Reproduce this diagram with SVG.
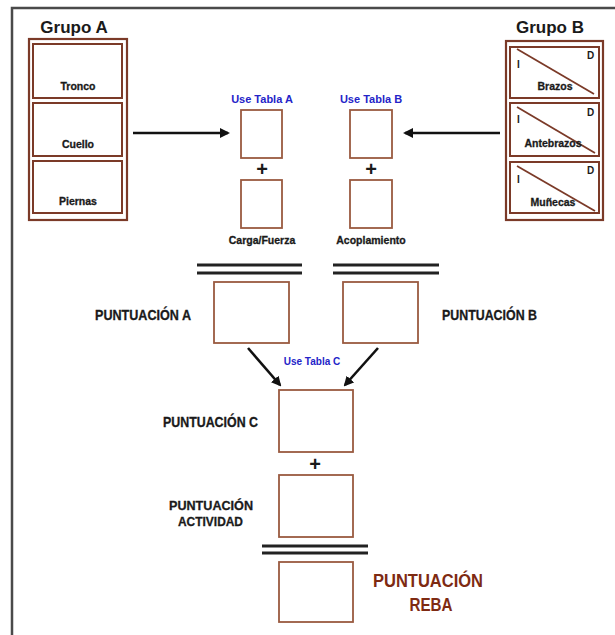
<svg xmlns="http://www.w3.org/2000/svg" width="615" height="635" viewBox="0 0 615 635">
  <defs>
    <style>
      .frame { fill: none; stroke: #4a4a4a; stroke-width: 2.5; }
      .grp { fill: #fff; stroke: #7b3a28; stroke-width: 2.2; }
      .cell { fill: #fff; stroke: #7b3a28; stroke-width: 2; }
      .box { fill: #fff; stroke: #9a5a40; stroke-width: 1.8; }
      .diag { stroke: #7b3a28; stroke-width: 1.8; }
      .wire { stroke: #111; stroke-width: 2.6; fill: none; }
      .bar { stroke: #222; stroke-width: 3; }
      text { font-family: "Liberation Sans", Arial, sans-serif; font-weight: bold; fill: #1a1a1a; }
      .title { font-size: 17px; }
      .small { font-size: 10.5px; text-anchor: middle; stroke: #1a1a1a; stroke-width: 0.3; }
      .letter { font-size: 10px; }
      .blue { font-size: 11px; fill: #2424c8; text-anchor: middle; }
      .score { font-size: 14px; stroke: #1a1a1a; stroke-width: 0.3; }
      .score2 { font-size: 12.5px; stroke: #1a1a1a; stroke-width: 0.3; }
      .plus { font-size: 20px; text-anchor: middle; }
      .reba { font-size: 18px; fill: #7e2a12; text-anchor: middle; }
    </style>
    <marker id="head" markerWidth="10" markerHeight="10" refX="8" refY="5" orient="auto" markerUnits="userSpaceOnUse">
      <path d="M0,0 L10,5 L0,10 Z" fill="#111"/>
    </marker>
  </defs>

  <rect width="615" height="635" fill="#fff"/>
  <!-- page frame (top and left edges) -->
  <path class="frame" d="M12,635 L12,8 L615,8"/>

  <!-- Grupo A -->
  <g id="grupo-a">
    <text class="title" x="74" y="33" text-anchor="middle">Grupo A</text>
    <rect class="grp" x="29" y="39" width="98" height="181"/>
    <rect class="cell" x="33" y="44" width="89" height="54"/>
    <rect class="cell" x="33" y="103" width="89" height="53"/>
    <rect class="cell" x="33" y="161" width="89" height="52"/>
    <text class="small" x="78" y="90">Tronco</text>
    <text class="small" x="78" y="148">Cuello</text>
    <text class="small" x="78" y="205">Piernas</text>
  </g>

  <!-- Grupo B -->
  <g id="grupo-b">
    <text class="title" x="550" y="33" text-anchor="middle">Grupo B</text>
    <rect class="grp" x="506" y="41" width="97" height="179"/>
    <rect class="cell" x="510" y="47" width="89" height="51"/>
    <rect class="cell" x="510" y="103" width="89" height="53"/>
    <rect class="cell" x="510" y="162" width="89" height="51"/>
    <line class="diag" x1="517" y1="49" x2="594" y2="94"/>
    <line class="diag" x1="517" y1="107" x2="595" y2="153"/>
    <line class="diag" x1="517" y1="166" x2="595" y2="211"/>
    <text class="letter" x="517" y="68">I</text>
    <text class="letter" x="587" y="59">D</text>
    <text class="letter" x="517" y="123">I</text>
    <text class="letter" x="587" y="116">D</text>
    <text class="letter" x="517" y="183">I</text>
    <text class="letter" x="587" y="174">D</text>
    <text class="small" x="555" y="90">Brazos</text>
    <text class="small" x="553" y="147">Antebrazos</text>
    <text class="small" x="553" y="206">Muñecas</text>
  </g>

  <!-- Tabla A column -->
  <g id="tabla-a">
    <text class="blue" x="262" y="103">Use Tabla A</text>
    <rect class="box" x="241" y="110" width="41" height="48"/>
    <text class="plus" x="262" y="176">+</text>
    <rect class="box" x="241" y="180" width="41" height="48"/>
    <text class="small" x="262" y="244">Carga/Fuerza</text>
  </g>

  <!-- Tabla B column -->
  <g id="tabla-b">
    <text class="blue" x="371" y="103">Use Tabla B</text>
    <rect class="box" x="350" y="110" width="42" height="48"/>
    <text class="plus" x="371" y="176">+</text>
    <rect class="box" x="350" y="180" width="42" height="48"/>
    <text class="small" x="371" y="244">Acoplamiento</text>
  </g>

  <!-- Puntuación A -->
  <g id="puntuacion-a">
    <line class="bar" x1="197" y1="265" x2="302" y2="265"/>
    <line class="bar" x1="197" y1="273" x2="302" y2="273"/>
    <rect class="box" x="214" y="282" width="75" height="61"/>
    <text class="score" x="95" y="320" textLength="96" lengthAdjust="spacingAndGlyphs">PUNTUACIÓN A</text>
  </g>

  <!-- Puntuación B -->
  <g id="puntuacion-b">
    <line class="bar" x1="333" y1="265" x2="439" y2="265"/>
    <line class="bar" x1="333" y1="273" x2="439" y2="273"/>
    <rect class="box" x="343" y="282" width="75" height="61"/>
    <text class="score" x="442" y="320" textLength="95" lengthAdjust="spacingAndGlyphs">PUNTUACIÓN B</text>
  </g>

  <!-- Puntuación C -->
  <g id="puntuacion-c">
    <text class="blue" x="312" y="365" style="font-size:10px">Use Tabla C</text>
    <rect class="box" x="279" y="390" width="74" height="62"/>
    <text class="score" x="163" y="427" textLength="95" lengthAdjust="spacingAndGlyphs">PUNTUACIÓN C</text>
    <text class="plus" x="315" y="471">+</text>
  </g>

  <!-- Puntuación actividad -->
  <g id="puntuacion-actividad">
    <rect class="box" x="279" y="475" width="74" height="62"/>
    <text class="score2" x="169" y="510" textLength="84" lengthAdjust="spacingAndGlyphs">PUNTUACIÓN</text>
    <text class="score2" x="178" y="526" textLength="65" lengthAdjust="spacingAndGlyphs">ACTIVIDAD</text>
  </g>

  <!-- Puntuación REBA -->
  <g id="puntuacion-reba">
    <line class="bar" x1="262" y1="546" x2="368" y2="546"/>
    <line class="bar" x1="262" y1="553" x2="368" y2="553"/>
    <rect class="box" x="279" y="562" width="74" height="60"/>
    <text class="reba" x="428" y="587" textLength="110" lengthAdjust="spacingAndGlyphs">PUNTUACIÓN</text>
    <text class="reba" x="431" y="611" textLength="43" lengthAdjust="spacingAndGlyphs">REBA</text>
  </g>

  <!-- connectors -->
  <g id="connectors">
    <line class="wire" x1="133" y1="133" x2="228" y2="133" marker-end="url(#head)"/>
    <line class="wire" x1="500" y1="133" x2="405" y2="133" marker-end="url(#head)"/>
    <line class="wire" x1="248" y1="348" x2="280" y2="385" marker-end="url(#head)"/>
    <line class="wire" x1="378" y1="348" x2="345" y2="385" marker-end="url(#head)"/>
  </g>
</svg>
